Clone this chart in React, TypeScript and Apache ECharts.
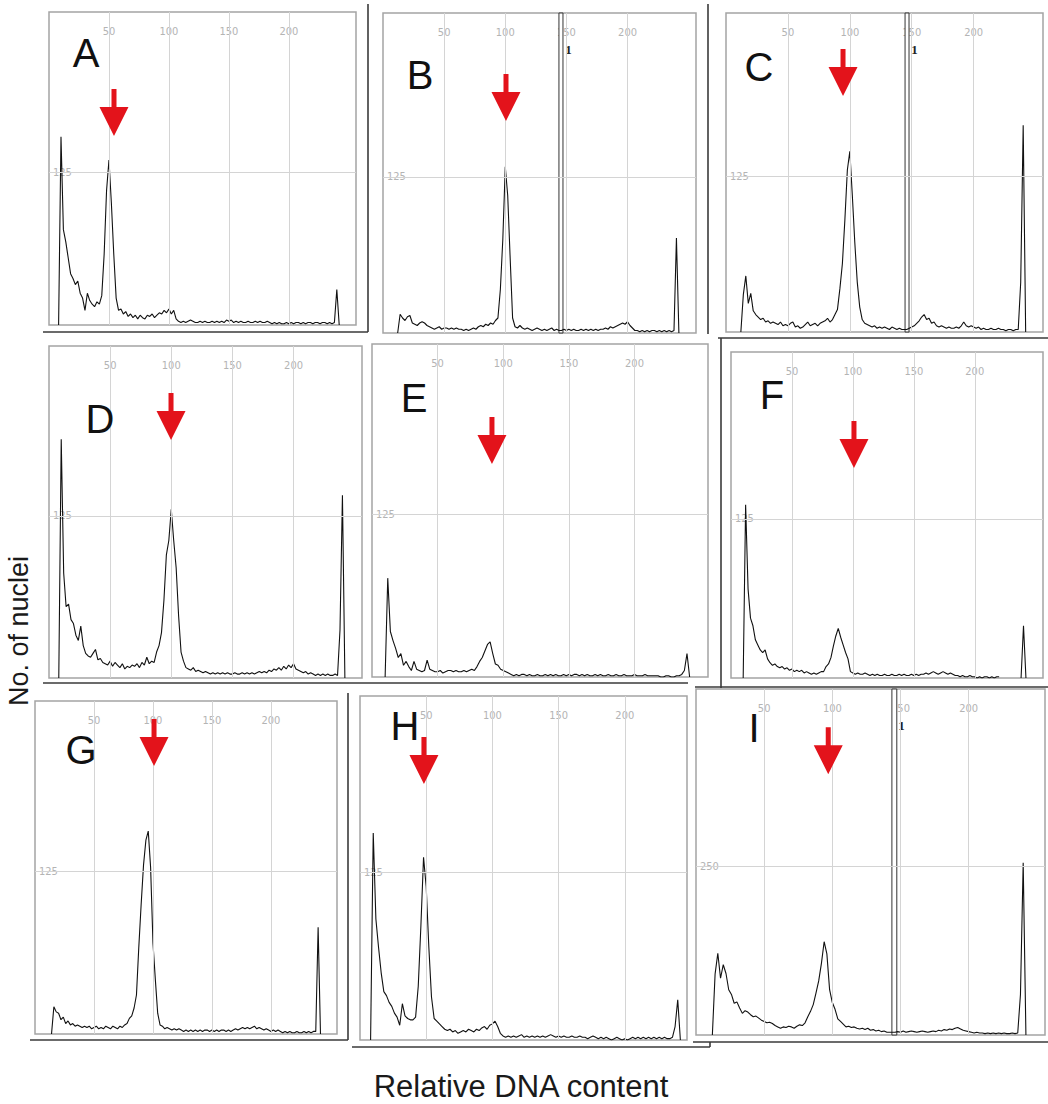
import React, { useEffect, useRef } from 'react';
import * as echarts from 'echarts';

const _ = null;

// Channel positions (bins of the 256-channel histogram, every 2nd channel)
const channels = [
  0, 2, 4, 6, 8, 10, 12, 14, 16, 18, 20, 22, 24, 26, 28, 30,
  32, 34, 36, 38, 40, 42, 44, 46, 48, 50, 52, 54, 56, 58, 60, 62,
  64, 66, 68, 70, 72, 74, 76, 78, 80, 82, 84, 86, 88, 90, 92, 94,
  96, 98, 100, 102, 104, 106, 108, 110, 112, 114, 116, 118, 120, 122, 124, 126,
  128, 130, 132, 134, 136, 138, 140, 142, 144, 146, 148, 150, 152, 154, 156, 158,
  160, 162, 164, 166, 168, 170, 172, 174, 176, 178, 180, 182, 184, 186, 188, 190,
  192, 194, 196, 198, 200, 202, 204, 206, 208, 210, 212, 214, 216, 218, 220, 222,
  224, 226, 228, 230, 232, 234, 236, 238, 240, 242, 244, 246, 248, 250, 252, 254,
];

const countsA = [
  _, _, _, _, 0, 154, 78, 68, 55, 42,
  38, 33, 36, 26, 22, 12, 26, 20, 17, 15,
  19, 17, 24, 58, 110, 135, 100, 58, 22, 12,
  13, 9, 11, 7, 9, 6, 8, 5, 8, 6,
  5, 8, 7, 9, 6, 8, 10, 9, 12, 10,
  13, 9, 12, 5, 3, 2, 3, 2, 3, 4,
  3, 2, 2, 3, 2, 3, 2, 2, 3, 2,
  3, 2, 3, 2, 4, 3, 4, 2, 3, 2,
  3, 2, 2, 3, 2, 2, 3, 2, 3, 2,
  2, 3, 2, 1, 2, 1, 2, 1, 1, 2,
  1, 2, 1, 2, 2, 1, 2, 1, 2, 2,
  1, 2, 2, 1, 2, 2, 1, 2, 1, 2,
  29, 0, _, _, _, _, _, _,
];

const countsB = [
  _, _, _, _, _, _, 0, 15, 12, 10,
  13, 14, 8, 7, 6, 8, 9, 8, 6, 5,
  4, 3, 4, 5, 3, 4, 4, 3, 4, 3,
  4, 3, 3, 2, 3, 2, 3, 4, 3, 5,
  6, 5, 7, 6, 8, 7, 10, 12, 35, 75,
  133, 110, 60, 12, 5, 4, 6, 4, 3, 4,
  3, 2, 3, 4, 3, 2, 3, 2, 3, 4,
  2, 3, 2, 2, 3, 2, 3, 2, 3, 2,
  2, 3, 2, 3, 2, 3, 2, 3, 2, 3,
  3, 4, 3, 5, 4, 5, 6, 7, 8, 7,
  9, 6, 4, 2, 2, 1, 2, 1, 2, 1,
  2, 2, 1, 2, 1, 2, 1, 2, 1, 2,
  76, 0, _, _, _, _, _, _,
];

const countsC = [
  _, _, _, _, _, _, 0, 30, 45, 23,
  31, 17, 14, 12, 10, 11, 8, 9, 7, 8,
  7, 6, 8, 5, 6, 5, 7, 8, 4, 5,
  3, 4, 6, 8, 5, 6, 7, 5, 7, 8,
  9, 11, 8, 10, 14, 18, 35, 55, 90, 130,
  145, 110, 72, 40, 20, 10, 7, 6, 5, 4,
  5, 3, 4, 3, 4, 3, 2, 4, 3, 2,
  3, 2, 2, 2, 3, 4, 5, 7, 9, 12,
  14, 10, 11, 7, 8, 5, 4, 5, 4, 3,
  4, 3, 3, 4, 3, 5, 8, 5, 4, 5,
  4, 3, 4, 2, 3, 2, 2, 3, 2, 2,
  3, 2, 2, 1, 2, 2, 1, 2, 2, 40,
  166, 0, _, _, _, _, _, _,
];

const countsD = [
  _, _, _, _, 0, 184, 81, 55, 57, 45,
  42, 33, 29, 40, 25, 19, 17, 16, 19, 22,
  14, 15, 12, 11, 10, 13, 9, 12, 10, 8,
  11, 7, 9, 8, 10, 9, 11, 8, 12, 10,
  16, 11, 13, 12, 20, 25, 35, 60, 95, 106,
  130, 106, 85, 48, 20, 13, 8, 7, 6, 8,
  5, 6, 5, 4, 5, 4, 3, 4, 3, 4,
  3, 4, 3, 4, 3, 3, 4, 3, 3, 4,
  3, 4, 3, 4, 3, 4, 5, 4, 5, 4,
  6, 5, 7, 6, 8, 6, 9, 7, 10, 8,
  11, 7, 6, 5, 4, 5, 3, 4, 3, 2,
  3, 2, 3, 2, 3, 2, 2, 3, 2, 37,
  141, 0, _, _, _, _, _, _,
];

const countsE = [
  _, _, _, _, _, 0, 76, 35, 28, 22,
  15, 18, 9, 12, 8, 5, 12, 6, 5, 4,
  5, 13, 6, 5, 4, 4, 5, 3, 4, 5,
  5, 4, 5, 4, 4, 5, 4, 5, 6, 5,
  8, 12, 15, 20, 25, 27, 18, 10, 9, 6,
  5, 4, 3, 2, 1, 2, 1, 2, 2, 1,
  2, 1, 1, 2, 1, 1, 2, 1, 2, 1,
  2, 1, 1, 2, 1, 2, 1, 2, 2, 1,
  2, 1, 2, 1, 1, 2, 1, 2, 1, 1,
  2, 1, 1, 2, 1, 1, 2, 1, 1, 1,
  2, 1, 1, 1, 2, 1, 1, 1, 1, 1,
  0, 0, 1, 1, 0, 0, 1, 1, 2, 5,
  18, 0, _, _, _, _, _, _,
];

const countsF = [
  _, _, _, _, _, 0, 136, 70, 47, 41,
  30, 26, 22, 20, 22, 15, 12, 10, 11, 9,
  8, 9, 7, 8, 6, 7, 5, 6, 5, 6,
  4, 5, 4, 3, 4, 3, 4, 5, 5, 9,
  11, 16, 25, 33, 39, 32, 26, 20, 15, 5,
  4, 3, 4, 3, 3, 4, 3, 2, 3, 2,
  3, 2, 2, 3, 2, 2, 3, 2, 2, 3,
  2, 3, 2, 2, 3, 2, 3, 2, 3, 3,
  4, 3, 4, 5, 4, 3, 4, 5, 4, 3,
  4, 3, 2, 2, 1, 2, 1, 1, 2, 1,
  1, 0, 1, 0, 1, 1, 0, 1, 0, 1,
  1, _, _, _, _, _, _, _, _, 0,
  41, 0, _, _, _, _, _, _,
];

const countsG = [
  _, _, _, _, _, _, _, 0, 21, 17,
  16, 11, 13, 8, 10, 7, 8, 6, 7, 6,
  5, 6, 5, 6, 4, 5, 6, 4, 5, 4,
  6, 5, 4, 6, 5, 4, 6, 5, 7, 8,
  12, 14, 20, 30, 67, 100, 130, 149, 156, 128,
  70, 42, 16, 7, 6, 4, 5, 4, 3, 4,
  3, 4, 3, 2, 3, 2, 3, 2, 3, 2,
  3, 2, 3, 3, 2, 3, 2, 3, 2, 3,
  3, 2, 3, 2, 3, 4, 3, 4, 5, 4,
  5, 4, 5, 6, 4, 5, 4, 3, 4, 3,
  2, 3, 2, 3, 2, 1, 2, 1, 2, 1,
  1, 2, 1, 1, 2, 1, 2, 1, 2, 2,
  82, 0, _, _, _, _, _, _,
];

const countsH = [
  _, _, _, _, 0, 154, 90, 69, 50, 36,
  33, 28, 25, 20, 17, 11, 27, 18, 16, 15,
  15, 17, 40, 85, 136, 114, 69, 32, 16, 14,
  12, 10, 8, 7, 8, 6, 7, 5, 6, 7,
  6, 8, 7, 6, 8, 7, 9, 10, 8, 11,
  12, 14, 10, 5, 3, 2, 3, 2, 3, 2,
  3, 4, 2, 3, 2, 3, 2, 3, 2, 3,
  2, 3, 4, 3, 2, 3, 2, 3, 2, 2,
  3, 2, 2, 3, 2, 2, 1, 2, 3, 2,
  1, 2, 1, 2, 1, 0, 1, 2, 1, 0,
  1, 0, 1, 2, 1, 2, 1, 2, 1, 2,
  1, 2, 1, 2, 1, 2, 1, 1, 2, 10,
  30, 0, _, _, _, _, _, _,
];

const countsI = [
  _, _, _, _, _, _, 0, 90, 121, 84,
  104, 91, 67, 60, 47, 49, 40, 32, 36, 34,
  30, 27, 28, 25, 22, 20, 18, 19, 17, 14,
  12, 10, 12, 11, 13, 12, 10, 13, 15, 14,
  18, 27, 35, 45, 62, 80, 106, 138, 120, 67,
  48, 38, 24, 20, 16, 12, 13, 11, 12, 10,
  9, 10, 8, 10, 7, 8, 6, 7, 5, 6,
  4, 4, 4, 4, 5, 4, 6, 4, 5, 6,
  5, 4, 5, 6, 5, 4, 5, 6, 5, 7,
  6, 8, 7, 9, 8, 10, 11, 9, 7, 6,
  5, 4, 3, 4, 3, 3, 2, 3, 2, 3,
  2, 3, 2, 3, 2, 2, 3, 2, 3, 60,
  255, 0, _, _, _, _, _, _,
];

const allCounts = [countsA, countsB, countsC, countsD, countsE, countsF, countsG, countsH, countsI];
const panelLetters = ['A', 'B', 'C', 'D', 'E', 'F', 'G', 'H', 'I'];
const xTickLabels = [50, 100, 150, 200];
const yGridValues = [125, 125, 125, 125, 125, 125, 125, 125, 250];
const xMaxes = [256, 256, 256, 256, 256, 256, 256, 247, 256];
const yMaxes = [256, 256, 256, 256, 256, 256, 256, 256, 512];
// arrow tips in data units [channel, count]
const arrowTips = [
  [54.2, 154.6], [100.6, 169.6], [94.5, 189.4],
  [99.8, 183.5], [91.4, 163.7], [100.9, 164.9],
  [100.9, 206], [48.3, 190.5], [97, 386],
];
// gate regions [from, to] in channels
const gateRanges = [null, [143.9, 147.2], [144.6, 147.8], null, null, null, null, null, [143.7, 147.3]];
const gateLabel = '1';
const yAxisTitle = 'No. of nuclei';
const xAxisTitle = 'Relative DNA content';

// ---- layout (pixels) ----
const gridBoxes = [
  [49, 12, 307, 313], [383, 13, 313, 320], [726, 13, 317, 319],
  [49, 346, 313, 332], [372, 344, 336, 333], [731, 352, 312, 326],
  [35, 701, 302, 333], [360, 696, 327, 344], [696, 689, 351, 346],
];
const letterPos = [
  [86, 53], [420, 75], [759, 67],
  [100, 419], [414, 398], [772, 395],
  [81, 750], [405, 726], [754, 728],
];
const frameLines = [
  [368, 4, 368, 332], [43, 332, 368, 332],
  [708, 4, 708, 334],
  [718, 338, 1048, 338],
  [43, 683, 688, 683],
  [721, 338, 721, 688], [695, 687, 1048, 687],
  [348, 693, 348, 1040], [30, 1040, 348, 1040],
  [352, 1047, 710, 1047], [710, 1042, 710, 1047],
  [693, 1042, 1048, 1042],
];

const ARROW_PATH = 'path://M12,0L17,0L17,18L29,18L14.5,47L0,18L12,18Z';
const TICK_FONT = '"DejaVu Sans Condensed", "Liberation Sans Narrow", "Liberation Sans", sans-serif';
const MAIN_FONT = '"Liberation Sans", Arial, Helvetica, sans-serif';

export default function App() {
  const ref = useRef<HTMLDivElement>(null);

  useEffect(() => {
    const chart = echarts.init(ref.current as HTMLDivElement, null, { renderer: 'svg' });
    const grids: any[] = [];
    const xAxes: any[] = [];
    const yAxes: any[] = [];
    const series: any[] = [];

    allCounts.forEach((counts, i) => {
      const [l, t, w, h] = gridBoxes[i];
      grids.push({
        left: l, top: t, width: w, height: h,
        show: true, borderColor: '#a4a4a4', borderWidth: 1.5, backgroundColor: '#ffffff',
      });
      xAxes.push({
        gridIndex: i, type: 'value', min: 0, max: xMaxes[i], interval: 50, position: 'top',
        axisLine: { show: false }, axisTick: { show: false }, splitLine: { show: false },
        axisLabel: {
          inside: true, margin: 14, color: '#b4b4b4', fontSize: 11, fontFamily: TICK_FONT,
          formatter: (v: number) => (xTickLabels.includes(v) ? String(v) : ''),
        },
      });
      yAxes.push({
        gridIndex: i, type: 'value', min: 0, max: yMaxes[i], interval: yGridValues[i],
        axisLine: { show: false }, axisTick: { show: false }, splitLine: { show: false },
        axisLabel: {
          inside: true, margin: 4, color: '#b4b4b4', fontSize: 11, fontFamily: TICK_FONT,
          formatter: (v: number) => (v === yGridValues[i] ? String(v) : ''),
        },
      });
      const gate = gateRanges[i];
      const s: any = {
        type: 'line', xAxisIndex: i, yAxisIndex: i, silent: true,
        data: channels.map((c, k) => [c, counts[k] === null ? '-' : counts[k]]),
        showSymbol: false, symbol: 'none', connectNulls: false,
        lineStyle: { color: '#111111', width: 1.1 },
        z: 3,
        markLine: {
          silent: true, symbol: ['none', 'none'], label: { show: false },
          lineStyle: { color: '#d4d4d4', width: 1, type: 'solid' },
          data: [...xTickLabels.map((v) => ({ xAxis: v })), { yAxis: yGridValues[i] }],
        },
        markPoint: {
          silent: true, label: { show: false },
          data: [{
            coord: arrowTips[i], symbol: ARROW_PATH, symbolSize: [29, 47], symbolOffset: [0, -23.5],
            itemStyle: { color: '#e3131b' },
          }],
        },
      };
      if (gate) {
        s.markArea = {
          silent: true,
          itemStyle: { color: '#ffffff', borderColor: '#333333', borderWidth: 1 },
          label: {
            show: true, formatter: gateLabel, position: [10, 37], align: 'center', verticalAlign: 'middle',
            fontFamily: '"Liberation Serif", "DejaVu Serif", serif', fontWeight: 'bold', fontSize: 13, color: '#222',
          },
          data: [[{ xAxis: gate[0] }, { xAxis: gate[1] }]],
        };
      }
      series.push(s);
    });

    const graphics: any[] = [];
    frameLines.forEach(([x1, y1, x2, y2]) => {
      graphics.push({
        type: 'line', silent: true, z: 10,
        shape: { x1, y1, x2, y2 },
        style: { stroke: '#3a3a3a', lineWidth: 1.6 },
      });
    });
    panelLetters.forEach((letter, i) => {
      graphics.push({
        type: 'text', silent: true, z: 20,
        style: {
          text: letter, x: letterPos[i][0], y: letterPos[i][1],
          align: 'center', verticalAlign: 'middle',
          fontSize: 40, fontFamily: MAIN_FONT, fill: '#111111',
        },
      });
    });
    graphics.push({
      type: 'text', silent: true, z: 20, x: 19, y: 631, rotation: Math.PI / 2,
      style: {
        text: yAxisTitle, x: 0, y: 0, align: 'center', verticalAlign: 'middle',
        fontSize: 27, fontFamily: MAIN_FONT, fill: '#1a1a1a',
      },
    });
    graphics.push({
      type: 'text', silent: true, z: 20,
      style: {
        text: xAxisTitle, x: 521, y: 1086, align: 'center', verticalAlign: 'middle',
        fontSize: 31, fontFamily: MAIN_FONT, fill: '#1a1a1a',
      },
    });

    chart.setOption({
      animation: false,
      backgroundColor: '#ffffff',
      grid: grids,
      xAxis: xAxes,
      yAxis: yAxes,
      series,
      graphic: graphics,
    });

    return () => {
      chart.dispose();
    };
  }, []);

  return (
    <div
      ref={ref}
      style={{ position: 'absolute', left: 0, top: 0, width: 1048, height: 1104, background: '#fff' }}
    />
  );
}
